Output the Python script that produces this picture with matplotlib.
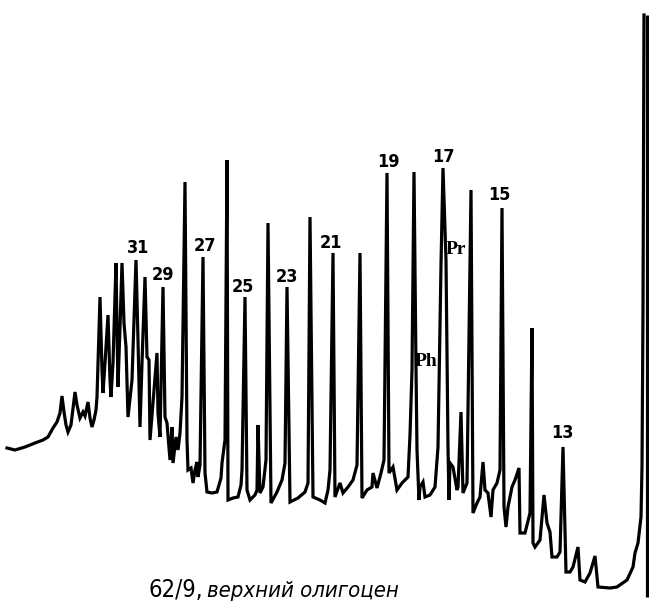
import matplotlib
matplotlib.use('Agg')
import matplotlib.pyplot as plt

# chromatogram trace (retention position, detector response)
rt = [7, 15, 25, 35, 43, 48, 53, 57, 60, 62, 64, 66, 68, 71, 75, 77, 80, 83, 85, 88,
      90, 92, 94, 96, 97, 100, 102, 103, 105, 108, 110, 111, 113, 116, 117, 118, 120, 122, 124, 126,
      128, 132, 136, 138, 140, 142, 145, 147, 149, 150, 157, 158, 160, 163, 165, 167, 170, 172, 173, 176,
      178, 180, 182, 185, 187, 188, 191, 193, 195, 197, 198, 200, 203, 205, 207, 212, 217, 221, 222, 225,
      227, 228, 233, 238, 241, 242, 245, 247, 250, 255, 257, 258, 260, 263, 266, 268, 271, 277, 282, 285,
      287, 290, 298, 305, 308, 310, 313, 320, 325, 328, 330, 333, 335, 340, 343, 348, 353, 357, 360, 362,
      367, 372, 373, 377, 381, 384, 387, 389, 393, 397, 402, 408, 410, 412, 414, 416, 417, 419, 420, 423,
      425, 430, 435, 438, 441, 443, 446, 448, 449, 450, 453, 457, 458, 461, 463, 467, 471, 473, 477, 480,
      483, 485, 488, 491, 493, 497, 500, 502, 504, 506, 508, 512, 515, 519, 520, 525, 530, 532, 533, 535,
      540, 544, 547, 550, 552, 557, 560, 563, 566, 570, 573, 578, 580, 585, 590, 595, 598, 610, 617, 627,
      633, 635, 638, 641, 642, 643, 644]
signal = [162, 160, 163, 167, 170, 173, 182, 188, 197, 214, 198, 185, 178, 185, 218, 205, 192, 198, 194, 208,
          192, 183, 190, 200, 213, 313, 240, 217, 247, 295, 230, 213, 247, 347, 280, 223, 283, 347, 287, 263,
          193, 230, 350, 270, 183, 247, 333, 253, 250, 170, 257, 197, 173, 323, 193, 187, 150, 183, 147, 173,
          160, 177, 213, 428, 170, 140, 142, 127, 140, 148, 133, 145, 353, 137, 118, 117, 118, 132, 147, 170,
          450, 110, 112, 113, 125, 140, 313, 120, 110, 115, 120, 185, 117, 123, 150, 387, 107, 118, 130, 147,
          323, 108, 112, 118, 127, 393, 113, 110, 107, 120, 140, 357, 113, 127, 117, 123, 130, 145, 357, 112,
          120, 123, 137, 122, 137, 150, 437, 137, 143, 120, 127, 133, 175, 240, 438, 242, 160, 110, 123, 128,
          113, 115, 123, 163, 345, 442, 350, 163, 110, 147, 143, 120, 123, 198, 117, 127, 420, 97, 107, 113,
          148, 120, 117, 93, 120, 127, 140, 402, 103, 83, 103, 123, 130, 142, 77, 77, 97, 282, 67, 63,
          70, 115, 87, 78, 53, 53, 58, 163, 38, 38, 43, 63, 30, 28, 37, 54, 23, 22, 23, 30,
          43, 57, 67, 93, 143, 300, 595]

# recorder chart edge on the right
edge_rt = 647
edge_sig = [13, 595]

# peak labels (n-alkane carbon numbers, pristane, phytane)
peak_labels = ['31', '29', '27', '25', '23', '21', '19', '17', '15', '13']
label_rt = [138, 163, 205, 243, 287, 331, 388, 443, 499, 562]
label_sig = [362, 335, 364, 323, 333, 367, 448, 453, 415, 177]
iso_labels = ['Pr', 'Ph']
iso_rt = [456, 426]
iso_sig = [360, 249]

caption_id = '62/9,'
caption_txt = 'верхний олигоцен'

fig = plt.figure(figsize=(6.49, 6.10), dpi=100)
ax = fig.add_axes([0, 0, 1, 1])
ax.set_xlim(0, 649)
ax.set_ylim(0, 610)
ax.axis('off')

ax.plot(rt, signal, color='black', lw=2.3, solid_joinstyle='miter')
ax.vlines(edge_rt, edge_sig[0], edge_sig[1], color='black', lw=2.3)

for lab, x, y in zip(peak_labels, label_rt, label_sig):
    ax.text(x, y, lab, ha='center', va='center', fontsize=13,
            family='DejaVu Sans', fontstretch='condensed', fontweight='bold')
for lab, x, y in zip(iso_labels, iso_rt, iso_sig):
    ax.text(x, y, lab, ha='center', va='center', fontsize=14,
            family=['Liberation Serif', 'DejaVu Serif'], fontweight='bold')

ax.text(148, 13, caption_id, ha='left', va='baseline', fontsize=17,
        family='DejaVu Sans', fontstretch='condensed')
ax.text(207, 13, caption_txt, ha='left', va='baseline', fontsize=15.8, style='italic',
        family='DejaVu Sans', fontstretch='condensed')

fig.savefig('out.png', dpi=100)
